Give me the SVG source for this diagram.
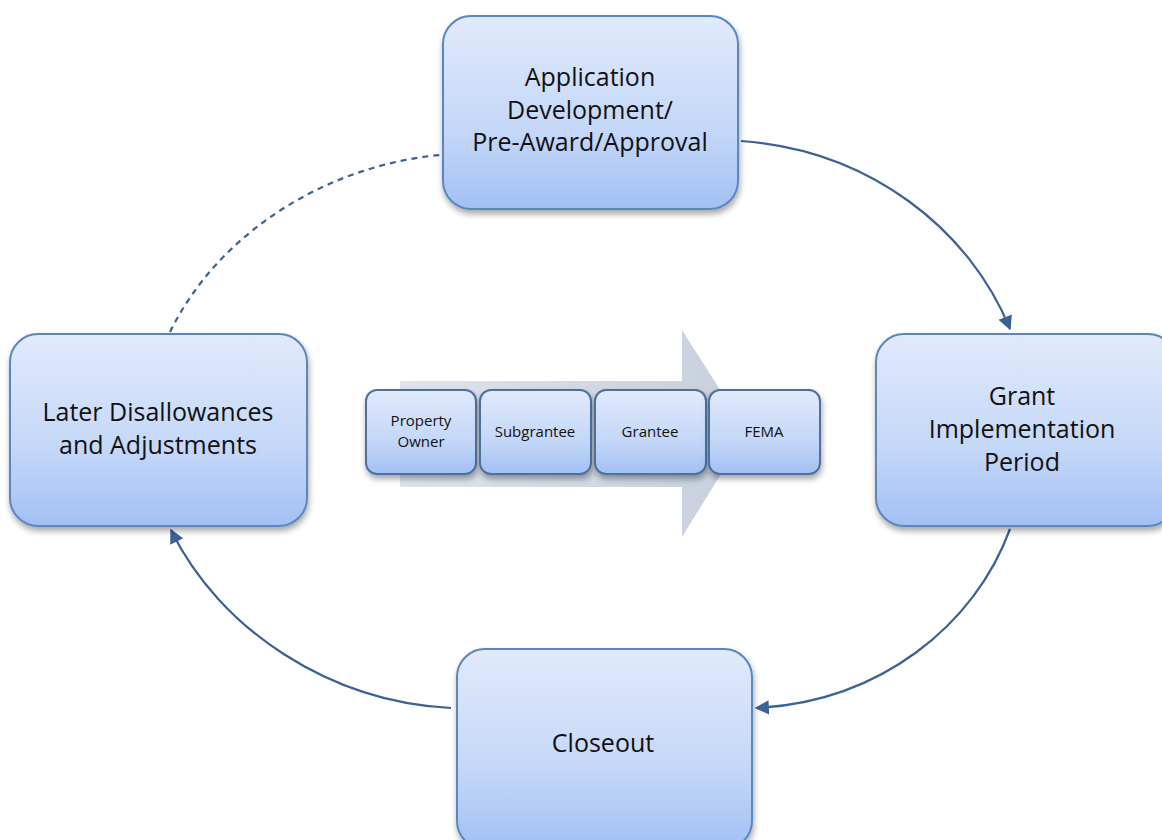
<svg xmlns="http://www.w3.org/2000/svg" width="1162" height="840" viewBox="0 0 1162 840">
<defs>
<linearGradient id="g" x1="0" y1="0" x2="0" y2="1">
<stop offset="0" stop-color="#e1eafb"/>
<stop offset="0.6" stop-color="#c4d7f8"/>
<stop offset="1" stop-color="#a2c0f4"/>
</linearGradient>
<linearGradient id="ga" x1="0" y1="0" x2="1" y2="0">
<stop offset="0" stop-color="#dfe4ec"/>
<stop offset="1" stop-color="#c6cfdc"/>
</linearGradient>
<filter id="sh" x="-10%" y="-10%" width="130%" height="130%">
<feGaussianBlur in="SourceAlpha" stdDeviation="3"/>
<feOffset dx="1" dy="4"/>
<feComponentTransfer><feFuncA type="linear" slope="0.35"/></feComponentTransfer>
<feMerge><feMergeNode/><feMergeNode in="SourceGraphic"/></feMerge>
</filter>
<marker id="ah" viewBox="0 0 10 10" refX="9" refY="5" markerWidth="6.5" markerHeight="6.5" orient="auto" markerUnits="strokeWidth">
<path d="M0,0 L10,5 L0,10 z" fill="#3b6195"/>
</marker>
</defs>
<style>
.box{fill:url(#g);stroke:#5a86c2;stroke-width:2;filter:url(#sh)}
.sbox{fill:url(#g);stroke:#4d6f9c;stroke-width:2;filter:url(#sh)}
.t{font-family:"Open Sans","Liberation Sans",sans-serif;font-size:25px;fill:#111;text-anchor:middle}
.s{font-family:"Open Sans","Liberation Sans",sans-serif;font-size:15px;fill:#111;text-anchor:middle}
.c{fill:none;stroke:#3b6195;stroke-width:2.2}
</style>
<rect width="1162" height="840" fill="#fff"/>
<g id="bigarrow">
<path d="M400,381 L682,381 L682,330 L747,432 L682,537 L682,487 L400,487 z" fill="url(#ga)"/>
</g>
<g id="connectors">
<path class="c" d="M741,141 C 870,150 970,230 1010,329" marker-end="url(#ah)"/>
<path class="c" d="M1010,529 C 975,625 880,702 756,708" marker-end="url(#ah)"/>
<path class="c" d="M451,708 C 330,702 220,630 171,530" marker-end="url(#ah)"/>
<path class="c" d="M170,332 C 220,230 330,165 440,155" stroke-dasharray="6,5" stroke-width="1.8"/>
</g>
<g id="n-app">
<rect class="box" x="443" y="16" width="295" height="193" rx="28"/>
<text class="t" x="590" y="86">Application</text>
<text class="t" x="590" y="119">Development/</text>
<text class="t" x="590" y="151">Pre-Award/Approval</text>
</g>
<g id="n-grant">
<rect class="box" x="876" y="334" width="300" height="192" rx="28"/>
<text class="t" x="1022" y="405">Grant</text>
<text class="t" x="1022" y="438">Implementation</text>
<text class="t" x="1022" y="471">Period</text>
</g>
<g id="n-close">
<rect class="box" x="457" y="649" width="295" height="200" rx="28"/>
<text class="t" x="603" y="752">Closeout</text>
</g>
<g id="n-later">
<rect class="box" x="10" y="334" width="297" height="192" rx="28"/>
<text class="t" x="158" y="421">Later Disallowances</text>
<text class="t" x="158" y="454">and Adjustments</text>
</g>
<g id="n-owner">
<rect class="sbox" x="366" y="390" width="110" height="84" rx="11"/>
<text class="s" x="421" y="426">Property</text>
<text class="s" x="421" y="447">Owner</text>
</g>
<g id="n-sub">
<rect class="sbox" x="480" y="390" width="111" height="84" rx="11"/>
<text class="s" x="535" y="437">Subgrantee</text>
</g>
<g id="n-grantee">
<rect class="sbox" x="595" y="390" width="111" height="84" rx="11"/>
<text class="s" x="650" y="437">Grantee</text>
</g>
<g id="n-fema">
<rect class="sbox" x="709" y="390" width="111" height="84" rx="11"/>
<text class="s" x="764" y="437">FEMA</text>
</g>
</svg>
